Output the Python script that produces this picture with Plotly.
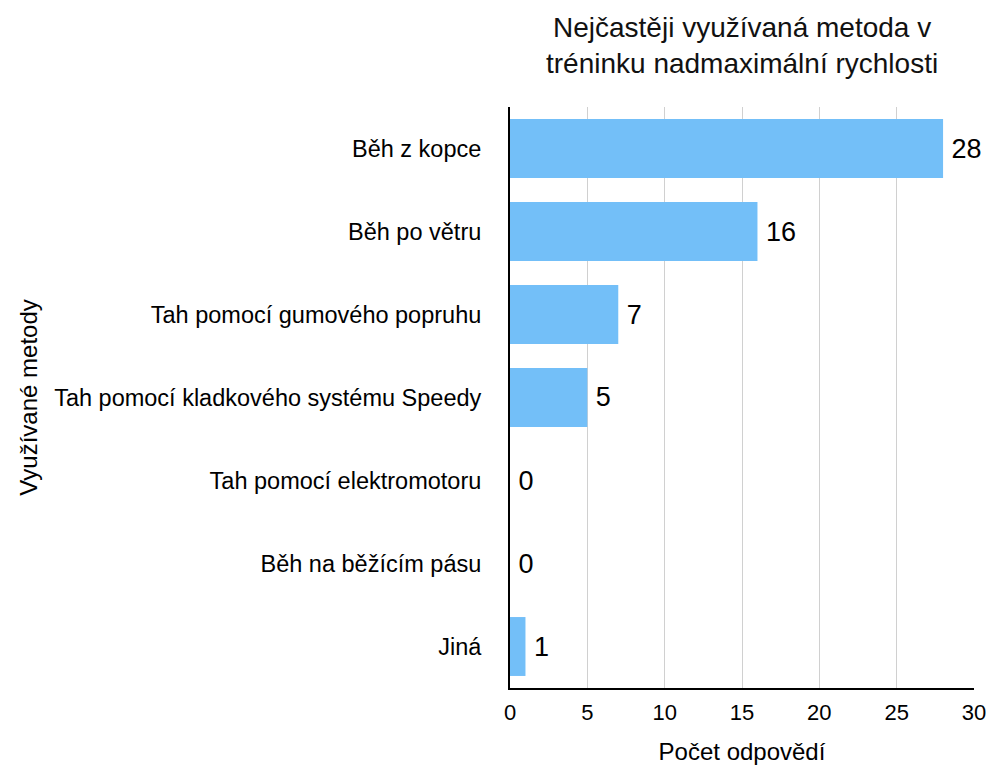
import plotly.graph_objects as go

categories = ["Běh z kopce", "Běh po větru", "Tah pomocí gumového popruhu",
              "Tah pomocí kladkového systému Speedy", "Tah pomocí elektromotoru",
              "Běh na běžícím pásu", "Jiná"]
values = [28, 16, 7, 5, 0, 0, 1]
x_ticks = [0, 5, 10, 15, 20, 25, 30]
title_text = "Nejčastěji využívaná metoda v<br>tréninku nadmaximální rychlosti"

FONT = "Liberation Sans, Arial, Helvetica, sans-serif"

fig = go.Figure(go.Bar(
    y=categories, x=values, orientation="h",
    marker=dict(color="#73BFF8", line=dict(width=0)),
    text=["\u2009" + str(v) for v in values], textposition="outside",
    textfont=dict(size=27, color="black", family=FONT),
    cliponaxis=False, width=0.71,
))

fig.update_layout(
    width=990, height=765,
    margin=dict(l=510, r=16, t=107, b=77),
    paper_bgcolor="white", plot_bgcolor="white",
    font=dict(family=FONT, color="black", size=18),
    showlegend=False,
    xaxis=dict(range=[0, 30], tickvals=x_ticks, showgrid=True, gridcolor="#d0d0d0", gridwidth=1,
               showline=True, linecolor="black", linewidth=2, zeroline=False,
               ticks="", ticklabelstandoff=4, tickfont=dict(size=22), automargin=False,
               title=dict(text="Počet odpovědí", font=dict(size=24), standoff=21)),
    yaxis=dict(autorange="reversed", showline=True, linecolor="black", linewidth=2,
               ticks="", ticklabelstandoff=22, tickfont=dict(size=23.5), automargin=False,
               title=dict(text="Využívané metody", font=dict(size=24), standoff=10)),
    annotations=[dict(text=title_text, xref="paper", yref="paper", x=0.5, y=1.167,
                      xanchor="center", yanchor="top", showarrow=False,
                      font=dict(size=28, family=FONT, color="#111"))],
)

fig.write_html("out.html")
